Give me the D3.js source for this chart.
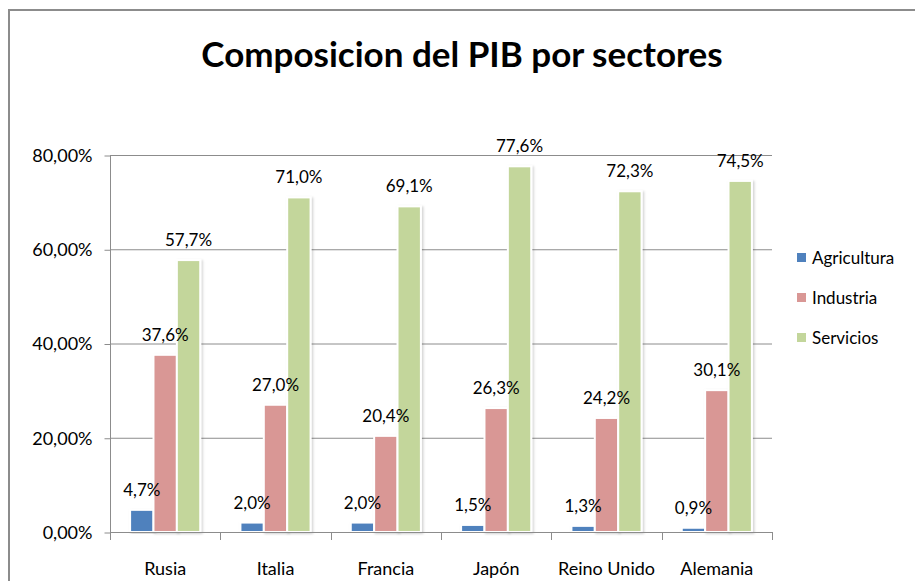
<!DOCTYPE html>
<html>
<head>
<meta charset="utf-8">
<script src="https://cdn.jsdelivr.net/npm/d3@7"></script>
<style>
  body { margin: 0; background: #fff; }
  svg { display: block; }
  text { font-family: Lato, "Open Sans", sans-serif; fill: #000; }
</style>
</head>
<body>
<div id="chart"></div>
<script>
// Datos
var paises = ["Rusia", "Italia", "Francia", "Japón", "Reino Unido", "Alemania"];
var series = ["Agricultura", "Industria", "Servicios"];
var agricultura = [4.7, 2.0, 2.0, 1.5, 1.3, 0.9];
var industria = [37.6, 27.0, 20.4, 26.3, 24.2, 30.1];
var servicios = [57.7, 71.0, 69.1, 77.6, 72.3, 74.5];
var ticksY = [0, 20, 40, 60, 80];
var colores = ["#4F81BD", "#D99795", "#C3D69B"];

var valores = [agricultura, industria, servicios];

var width = 915, height = 581;

var svg = d3.select("#chart").append("svg")
  .attr("width", width)
  .attr("height", height);

// Sombra suave de las barras
var filtro = svg.append("defs").append("filter")
  .attr("id", "sombra")
  .attr("x", "-20%").attr("y", "-5%")
  .attr("width", "150%").attr("height", "110%");
filtro.append("feDropShadow")
  .attr("dx", 1.5).attr("dy", 1)
  .attr("stdDeviation", 1)
  .attr("flood-color", "#000")
  .attr("flood-opacity", 0.18);

// Borde del area del grafico
svg.append("path")
  .attr("d", "M9," + height + "V10H" + width)
  .attr("fill", "none")
  .attr("stroke", "#8c8c8c")
  .attr("stroke-width", 2);

// Titulo
svg.append("text")
  .attr("x", 462)
  .attr("y", 67)
  .attr("text-anchor", "middle")
  .style("font-size", "35px")
  .style("font-weight", "bold")
  .text("Composicion del PIB por sectores");

// Escalas
var x0 = d3.scaleBand()
  .domain(paises)
  .range([110, 772]);

var x1 = d3.scaleBand()
  .domain(series)
  .range([0, x0.bandwidth()])
  .paddingInner(0)
  .paddingOuter(0.86);

var y = d3.scaleLinear()
  .domain([0, 80])
  .range([532, 155]);

// Rejilla
svg.append("g")
  .selectAll("line")
  .data(ticksY.filter(function(d) { return d > 0; }))
  .enter().append("line")
  .attr("x1", 110)
  .attr("x2", 772)
  .attr("y1", function(d) { return y(d) + 0.5; })
  .attr("y2", function(d) { return y(d) + 0.5; })
  .attr("stroke", "#8c8c8c")
  .attr("stroke-width", 1);

// Eje Y
var ejeY = svg.append("g")
  .attr("transform", "translate(110.5,0)")
  .call(d3.axisLeft(y)
    .tickValues(ticksY)
    .tickSize(6)
    .tickPadding(12)
    .tickFormat(function(d) { return d3.format(".2f")(d).replace(".", ",") + "%"; }));
ejeY.select(".domain").attr("stroke", "#8c8c8c").attr("d", "M0,155V540");
ejeY.selectAll(".tick line").attr("stroke", "#8c8c8c").attr("transform", "translate(0,0.5)");
ejeY.selectAll(".tick text")
  .style("font-size", "18px")
  .style("font-family", "Lato, 'Open Sans', sans-serif")
  .attr("fill", "#000")
  .attr("dy", "0.35em");

// Barras
var grupos = svg.append("g")
  .selectAll("g")
  .data(paises)
  .enter().append("g")
  .attr("transform", function(d) { return "translate(" + x0(d) + ",0)"; });

grupos.selectAll("rect")
  .data(function(d, i) {
    return series.map(function(s, j) { return { serie: s, j: j, valor: valores[j][i] }; });
  })
  .enter().append("rect")
  .attr("x", function(d) { return x1(d.serie); })
  .attr("width", x1.bandwidth())
  .attr("y", function(d) { return y(d.valor); })
  .attr("height", function(d) { return y(0) - y(d.valor); })
  .attr("fill", function(d) { return colores[d.j]; })
  .attr("stroke", "#fff")
  .attr("stroke-width", 2)
  .attr("filter", "url(#sombra)");

// Etiquetas de valores
grupos.selectAll("text.valor")
  .data(function(d, i) {
    return series.map(function(s, j) { return { serie: s, valor: valores[j][i] }; });
  })
  .enter().append("text")
  .attr("class", "valor")
  .attr("x", function(d) { return x1(d.serie) + x1.bandwidth() / 2; })
  .attr("y", function(d) { return y(d.valor) - 14; })
  .attr("text-anchor", "middle")
  .style("font-size", "17px")
  .text(function(d) { return d3.format(".1f")(d.valor).replace(".", ",") + "%"; });

// Eje X
svg.append("line")
  .attr("x1", 110).attr("x2", 772)
  .attr("y1", 532.5).attr("y2", 532.5)
  .attr("stroke", "#8c8c8c");

svg.append("g")
  .selectAll("line")
  .data(paises)
  .enter().append("line")
  .attr("x1", function(d) { return Math.round(x0(d) + x0.bandwidth()) + 0.5; })
  .attr("x2", function(d) { return Math.round(x0(d) + x0.bandwidth()) + 0.5; })
  .attr("y1", 532)
  .attr("y2", 540)
  .attr("stroke", "#8c8c8c");

svg.append("g")
  .selectAll("text")
  .data(paises)
  .enter().append("text")
  .attr("x", function(d) { return x0(d) + x0.bandwidth() / 2; })
  .attr("y", 575)
  .attr("text-anchor", "middle")
  .style("font-size", "18px")
  .text(function(d) { return d; });

// Leyenda
var leyenda = svg.append("g")
  .selectAll("g")
  .data(series)
  .enter().append("g")
  .attr("transform", function(d, i) { return "translate(797," + (258 + i * 40) + ")"; });

leyenda.append("rect")
  .attr("x", 0)
  .attr("y", -5)
  .attr("width", 9)
  .attr("height", 9)
  .attr("fill", function(d, i) { return colores[i]; });

leyenda.append("text")
  .attr("x", 15)
  .attr("y", 0)
  .attr("dy", "0.35em")
  .style("font-size", "17px")
  .text(function(d) { return d; });
</script>
</body>
</html>
